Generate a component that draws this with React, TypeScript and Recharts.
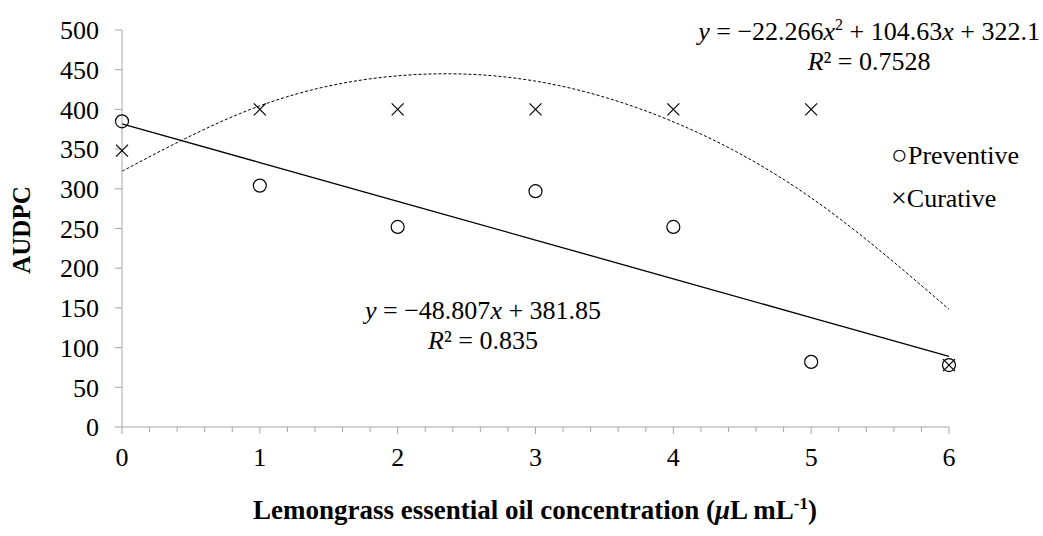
import React from "react";
import { ComposedChart, Line, Scatter, XAxis, YAxis } from "recharts";

const X_VALUES = [0, 1, 2, 3, 4, 5, 6];
const PREVENTIVE = [385, 304, 252, 297, 252, 82, 78];
const CURATIVE = [348, 400, 400, 400, 400, 400, 78];
// trend lines at each concentration
const LINEAR_TREND = [381.85, 333.04, 284.24, 235.43, 186.62, 137.82, 89.01];
const QUAD_TREND = [322.1, 404.46, 442.29, 435.59, 384.36, 288.6, 148.3];
const Y_TICKS = [0, 50, 100, 150, 200, 250, 300, 350, 400, 450, 500];
const X_TICKS = Array.from({ length: 31 }, (_, i) => i / 5);

const rows = X_VALUES.map((x, i) => ({
  x,
  prev: PREVENTIVE[i],
  cur: CURATIVE[i],
  lin: LINEAR_TREND[i],
  quad: QUAD_TREND[i],
}));

const AXIS = "#a6a6a6";
const FONT = '"Liberation Serif", "Times New Roman", serif';

function XTick({ x, y, payload }: any) {
  const v = payload.value;
  const major = Math.abs(v - Math.round(v)) < 1e-6;
  return (
    <g>
      <line x1={x} x2={x} y1={y} y2={y + (major ? 7 : 5)} stroke={AXIS} />
      {major && (
        <text x={x} y={y + 39} textAnchor="middle" fontSize={26} fill="#000" fontFamily={FONT}>
          {Math.round(v)}
        </text>
      )}
    </g>
  );
}

function Circle({ cx, cy }: any) {
  return <circle cx={cx} cy={cy} r={6.5} fill="none" stroke="#000" strokeWidth={1.2} />;
}

function Cross({ cx, cy }: any) {
  const s = 6;
  return (
    <g stroke="#000" strokeWidth={1.2}>
      <line x1={cx - s} y1={cy - s} x2={cx + s} y2={cy + s} />
      <line x1={cx - s} y1={cy + s} x2={cx + s} y2={cy - s} />
    </g>
  );
}

const txt: React.CSSProperties = {
  position: "absolute",
  fontFamily: FONT,
  fontSize: 26,
  color: "#000",
  whiteSpace: "nowrap",
  lineHeight: "30px",
};

export default function App() {
  return (
    <div
      style={{
        position: "absolute",
        left: 0,
        top: 0,
        width: 1043,
        height: 536,
        background: "#fff",
        fontFamily: FONT,
      }}
    >
      <ComposedChart
        width={1043}
        height={536}
        data={rows}
        margin={{ top: 30, right: 94, bottom: 69, left: 42 }}
      >
        <XAxis
          dataKey="x"
          type="number"
          domain={[0, 6]}
          ticks={X_TICKS}
          interval={0}
          tickSize={0}
          tickMargin={0}
          tickLine={false}
          tick={<XTick />}
          axisLine={{ stroke: AXIS }}
          height={40}
        />
        <YAxis
          type="number"
          domain={[0, 500]}
          ticks={Y_TICKS}
          interval={0}
          width={80}
          tickSize={7}
          tickMargin={16}
          axisLine={{ stroke: AXIS }}
          tickLine={{ stroke: AXIS }}
          tick={{ fontSize: 26, fill: "#000", fontFamily: FONT }}
        />
        <Line
          dataKey="quad"
          type="natural"
          stroke="#000"
          strokeWidth={1}
          strokeDasharray="3 2"
          dot={false}
          activeDot={false}
          isAnimationActive={false}
        />
        <Line
          dataKey="lin"
          type="linear"
          stroke="#000"
          strokeWidth={1.3}
          dot={false}
          activeDot={false}
          isAnimationActive={false}
        />
        <Scatter dataKey="prev" shape={<Circle />} isAnimationActive={false} />
        <Scatter dataKey="cur" shape={<Cross />} isAnimationActive={false} />
      </ComposedChart>

      <div style={{ ...txt, right: 3, top: 17, textAlign: "center" }}>
        <div>
          <i>y</i> = −22.266<i>x</i>
          <sup style={{ fontSize: 16, lineHeight: 0 }}>2</sup> + 104.63<i>x</i> + 322.1
        </div>
        <div>
          <i>R</i>² = 0.7528
        </div>
      </div>

      <div style={{ ...txt, left: 365, top: 296, textAlign: "center" }}>
        <div>
          <i>y</i> = −48.807<i>x</i> + 381.85
        </div>
        <div>
          <i>R</i>² = 0.835
        </div>
      </div>

      <div style={{ ...txt, left: 891, top: 140 }}>
        <span style={{ fontSize: 28 }}>○</span>Preventive
      </div>
      <div style={{ ...txt, left: 891, top: 183 }}>
        <span style={{ fontSize: 28 }}>×</span>Curative
      </div>

      <div
        style={{
          ...txt,
          left: 22,
          top: 230,
          fontWeight: "bold",
          fontSize: 25,
          transform: "translate(-50%, -50%) rotate(-90deg)",
        }}
      >
        AUDPC
      </div>

      <div
        style={{
          ...txt,
          left: 535,
          top: 495,
          fontWeight: "bold",
          fontSize: 27,
          transform: "translateX(-50%)",
        }}
      >
        Lemongrass essential oil concentration (<i>μ</i>L mL
        <sup style={{ fontSize: 17, lineHeight: 0 }}>-1</sup>)
      </div>
    </div>
  );
}
